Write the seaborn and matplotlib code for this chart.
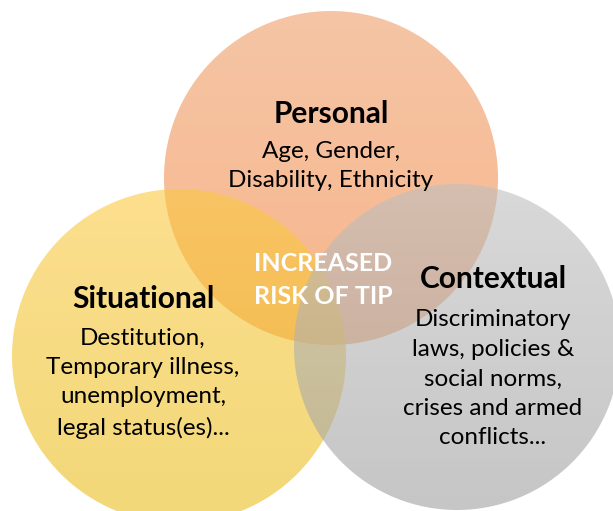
import matplotlib
matplotlib.use("Agg")
import matplotlib.pyplot as plt
from matplotlib.patches import Circle
import numpy as np
import seaborn as sns

sns.set_theme(style="white")
plt.rcParams['font.family'] = ['Lato', 'DejaVu Sans']

# Data
categories = ["Personal", "Situational", "Contextual"]
descriptions = [
    "Age, Gender,\nDisability, Ethnicity",
    "Destitution,\nTemporary illness,\nunemployment,\nlegal status(es)...",
    "Discriminatory\nlaws, policies &\nsocial norms,\ncrises and armed\nconflicts...",
]
center_label = "INCREASED\nRISK OF TIP"
# apparent colours over white (top, bottom of each circle)
top_colors = ["#F5C5A5", "#FDDF8E", "#D9D9D9"]
bottom_colors = ["#F8B68C", "#F2D878", "#C6C6C6"]
ALPHA = 0.6

# Layout (pixel coordinates, y downward)
W, H = 613, 511
circle_xy = [(331, 178), (179, 356), (457, 347)]
radii = [167, 167, 163]
title_xy = [(331, 114), (143, 299), (493, 279)]
desc_xy = [(331, 166), (143, 383), (493, 379)]

fig = plt.figure(figsize=(W / 100, H / 100), dpi=100)
ax = fig.add_axes([0, 0, 1, 1])


def base_rgb(hexcol):
    c = np.array(matplotlib.colors.to_rgb(hexcol))
    return np.clip(1 - (1 - c) / ALPHA, 0, 1)


for i in range(3):
    cx, cy = circle_xy[i]
    r = radii[i]
    t = np.linspace(0, 1, 200)[:, None]
    top = base_rgb(top_colors[i])
    bot = base_rgb(bottom_colors[i])
    grad = (1 - t) * top + t * bot
    img = ax.imshow(grad[:, None, :], extent=(cx - r, cx + r, cy + r, cy - r),
                    origin="upper", aspect="auto", alpha=ALPHA,
                    interpolation="bilinear", zorder=1 + i)
    circ = Circle((cx, cy), r, transform=ax.transData, facecolor="none",
                  edgecolor="none")
    img.set_clip_path(circ)

ax.set_xlim(0, W)
ax.set_ylim(H, 0)
ax.set_aspect("equal")
ax.axis("off")

for i, cat in enumerate(categories):
    ax.text(*title_xy[i], cat, ha="center", va="center", fontsize=21.5,
            fontweight="bold", color="black", zorder=10)
    ax.text(*desc_xy[i], descriptions[i], ha="center", va="center", fontsize=17.5,
            color="black", linespacing=1.5, zorder=10)

ax.text(323, 280, center_label, ha="center", va="center", fontsize=18,
        fontweight="bold", color="white", linespacing=1.55, zorder=10)

fig.savefig("out.png", dpi=100)
